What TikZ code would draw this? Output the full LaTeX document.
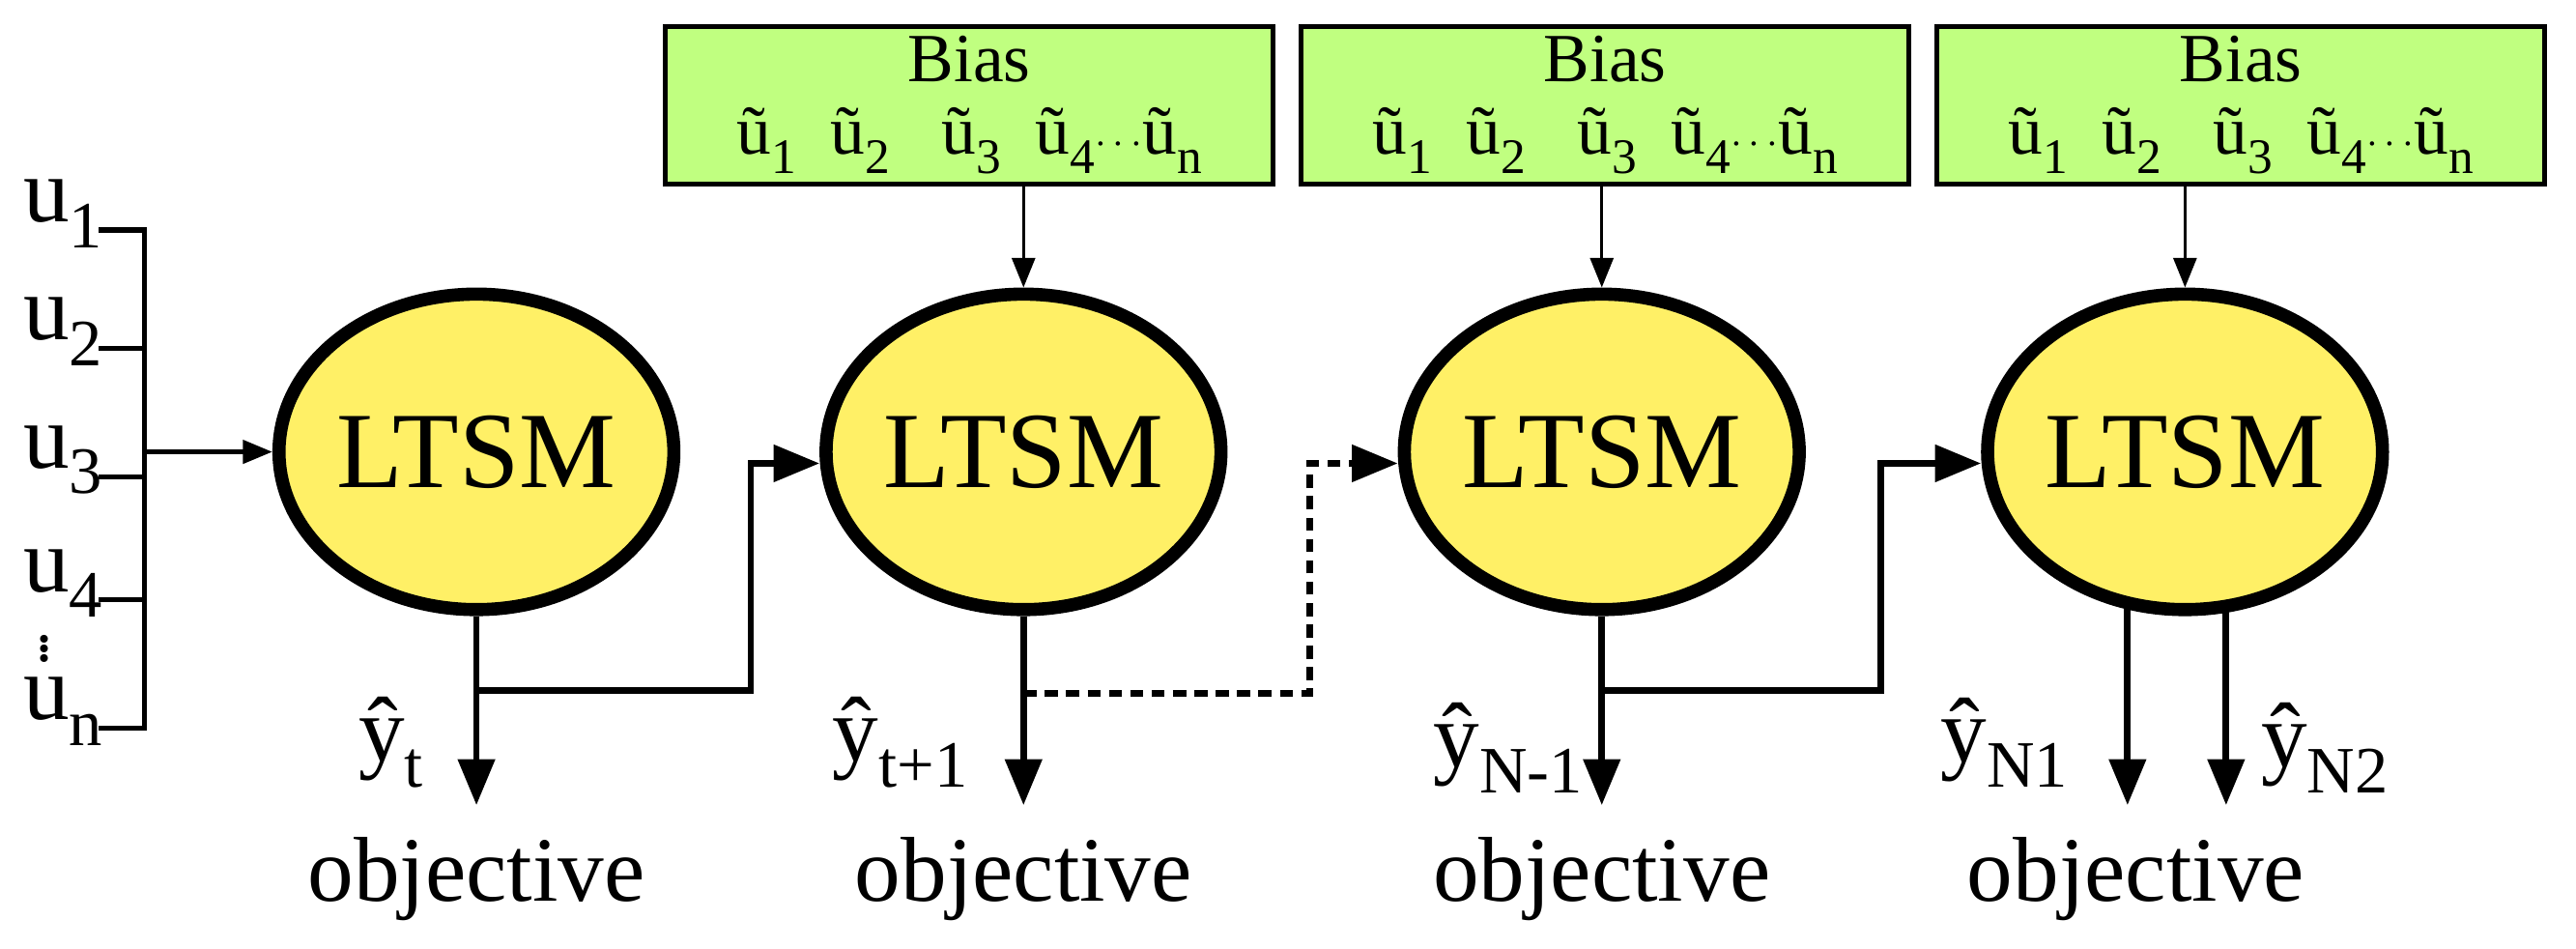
\documentclass[tikz,border=0pt]{standalone}
\usepackage{fontspec}
\setmainfont{Liberation Serif}
\usepackage{graphicx}
\usetikzlibrary{shapes.geometric,arrows.meta}
\definecolor{ylw}{HTML}{FFF066}
\definecolor{grn}{HTML}{C0FF80}
\newcommand{\sbs}[1]{\raisebox{-0.28em}{\scalebox{0.72}{#1}}}
\begin{document}
\begin{tikzpicture}[x=1pt,y=-1pt,
  lstm/.style={ellipse,draw,line width=8pt,fill=ylw,minimum width=208pt,minimum height=192pt,inner sep=0pt,font=\fontsize{66}{70}\selectfont},
  bias/.style={draw,line width=3pt,fill=grn,minimum width=370pt,minimum height=96pt,inner sep=0pt,align=center,font=\fontsize{42}{44}\selectfont},
  thin/.style={line width=2pt,-{Triangle[length=18pt,width=14pt]}},
  thick/.style={line width=4pt,-{Triangle[length=28pt,width=22pt]}},
  lab/.style={font=\fontsize{56}{60}\selectfont},
  obj/.style={font=\fontsize{56}{60}\selectfont}]
\useasboundingbox (0,0) rectangle (1568,577);
\newcommand{\biastext}{Bias\\ \~{u}\sbs{1}\ \ \~{u}\sbs{2}\ \ \ \~{u}\sbs{3}\ \ \~{u}\sbs{4}$\cdots$\~{u}\sbs{n}}
\node[lstm] (L1) at (290,275) {LTSM};
\node[lstm] (L2) at (623,275) {LTSM};
\node[lstm] (L3) at (975,275) {LTSM};
\node[lstm] (L4) at (1330,275) {LTSM};
\node[bias] (B2) at (590,64) {\biastext};
\node[bias] (B3) at (977,64) {\biastext};
\node[bias] (B4) at (1364,64) {\biastext};
\draw[thin] (B2.south -| L2) -- (L2.north);
\draw[thin] (B3.south -| L3) -- (L3.north);
\draw[thin] (B4.south -| L4) -- (L4.north);
% input bracket
\coordinate (bt) at (88,140); \coordinate (bb) at (88,443);
\draw[line width=3pt] (60,140) -- (bt) -- (bb) -- (60,443);
\foreach \y in {212,290,365} \draw[line width=3pt] (60,\y) -- (88,\y);
\node[lab,anchor=east] (u1) at (66,130) {u\sbs{1}};
\node[lab,anchor=east] (u2) at (66,202) {u\sbs{2}};
\node[lab,anchor=east] (u3) at (66,280) {u\sbs{3}};
\node[lab,anchor=east] (u4) at (66,355) {u\sbs{4}};
\node[lab,anchor=east] (un) at (66,433) {u\sbs{n}};
\node[font=\fontsize{40}{40}\selectfont] (dd) at (27,392) {$\vdots$};
\coordinate (in) at (88,275);
\draw[thin,line width=3pt] (in) -- (L1.west);
% outputs
\coordinate (o1) at (290,490); \coordinate (o2) at (623,490); \coordinate (o3) at (975,490);
\coordinate (o4a) at (1295,490); \coordinate (o4b) at (1355,490);
\draw[thick] (L1.south) -- (o1);
\draw[thick] (L2.south) -- (o2);
\draw[thick] (L3.south) -- (o3);
\draw[thick] (L4.south -| o4a) ++(0,-6) -- (o4a);
\draw[thick] (L4.south -| o4b) ++(0,-6) -- (o4b);
% recurrent links
\coordinate (c1) at (290,420); \coordinate (c2) at (623,422); \coordinate (c3) at (975,420);
\draw[thick] (c1) -- (457,420) -- (457,282) -- (L2.west |- 0,282);
\draw[thick,dash pattern=on 8pt off 5pt] (c2) -- (797,422) -- (797,282) -- (L3.west |- 0,282);
\draw[thick] (c3) -- (1145,420) -- (1145,282) -- (L4.west |- 0,282);
% labels
\node[lab] (y1) at (238,452) {\^{y}\sbs{t}};
\node[lab] (y2) at (548,452) {\^{y}\sbs{t+1}};
\node[lab] (y3) at (918,455) {\^{y}\sbs{N-1}};
\node[lab] (y4) at (1220,452) {\^{y}\sbs{N1}};
\node[lab] (y5) at (1415,455) {\^{y}\sbs{N2}};
\node[obj] (ob1) at (290,535) {objective};
\node[obj] (ob2) at (623,535) {objective};
\node[obj] (ob3) at (975,535) {objective};
\node[obj] (ob4) at (1300,535) {objective};
\end{tikzpicture}
\end{document}
